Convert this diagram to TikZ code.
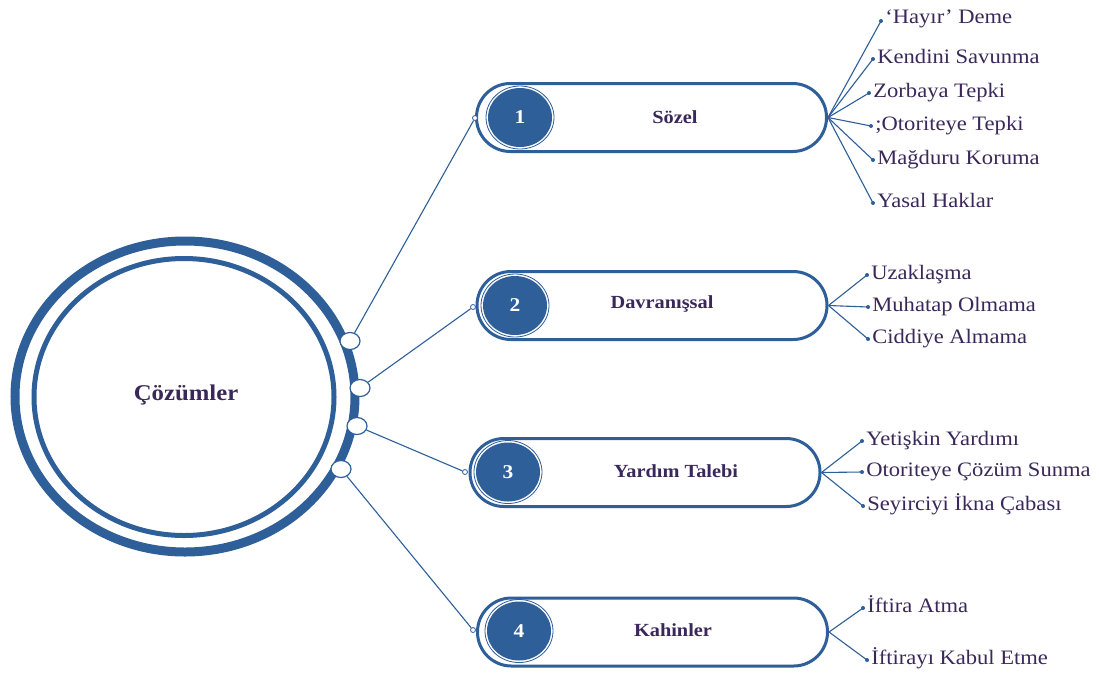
\documentclass[tikz,border=0pt]{standalone}
\usepackage{fontspec}
\setmainfont{Liberation Serif}[FakeStretch=1.1]
\usetikzlibrary{shapes.geometric}
\definecolor{mblue}{RGB}{46,95,153}
\definecolor{mtext}{RGB}{58,40,90}
\begin{document}
\begin{tikzpicture}[x=1pt,y=-1pt,
  ringdot/.style={ellipse,draw=mblue,fill=white,line width=1.2pt,minimum width=20pt,minimum height=17pt,inner sep=0pt},
  pill/.style={rectangle,rounded corners=33.9pt,draw=mblue,line width=3pt,minimum width=350pt,minimum height=68pt,inner sep=0pt},
  numring/.style={ellipse,draw=mblue,line width=0.8pt,minimum width=68pt,minimum height=63pt,inner sep=0pt},
  num/.style={ellipse,fill=mblue,minimum width=64pt,minimum height=59pt,inner sep=0pt,text=white,font=\bfseries\fontsize{19.5}{20}\selectfont},
  ptext/.style={text=mtext,font=\bfseries\fontsize{18.5}{20}\selectfont},
  tipdot/.style={circle,draw=mblue,fill=white,line width=0.8pt,minimum size=5pt,inner sep=0pt},
  bdot/.style={circle,fill=mblue,minimum size=4pt,inner sep=0pt},
  lbl/.style={anchor=base west,text=mtext,font=\fontsize{20.5}{22}\selectfont,inner sep=0pt,xshift=2pt,yshift=-4pt},
  link/.style={draw=mblue,line width=1.1pt}]
\useasboundingbox[fill=white] (0,0) rectangle (1099,673);

% central ellipses
\node[ellipse,draw=mblue,line width=9pt,minimum width=340pt,minimum height=311pt,inner sep=0pt] (outer) at (185,396.5) {};
\node[ellipse,draw=mblue,line width=5pt,minimum width=300pt,minimum height=277pt,inner sep=0pt] (inner) at (184,397) {};
\node[text=mtext,font=\bfseries\fontsize{22.5}{24}\selectfont] (title) at (186,395) {Çözümler};

% pills
\node[pill] (pill1) at (651.5,117.5) {};
\node[pill] (pill2) at (652,305.5) {};
\node[pill] (pill3) at (645,472.5) {};
\node[pill] (pill4) at (652.5,632) {};

\node[numring] (nr1) at (520,117.5) {};
\node[num] (n1) at (520,117.5) {1};
\node[numring] (nr2) at (515,305.5) {};
\node[num] (n2) at (515,305.5) {2};
\node[numring] (nr3) at (508,472) {};
\node[num] (n3) at (508,472) {3};
\node[numring] (nr4) at (519,631) {};
\node[num] (n4) at (519,631) {4};

\node[ptext] (t1) at (675,117) {Sözel};
\node[ptext] (t2) at (662,304) {Davranışsal};
\node[ptext] (t3) at (676,471) {Yardım Talebi};
\node[ptext] (t4) at (673,630) {Kahinler};

% ring dots and connectors to pills
\node[ringdot] (r1) at (350,341) {};
\node[ringdot] (r2) at (360,388) {};
\node[ringdot] (r3) at (357,426) {};
\node[ringdot] (r4) at (341,469) {};
\node[tipdot] (p1) at (475,118) {};
\node[tipdot] (p2) at (473,307) {};
\node[tipdot] (p3) at (465,472) {};
\node[tipdot] (p4) at (473,630) {};
\draw[link] (r1) -- (p1);
\draw[link] (r2) -- (p2);
\draw[link] (r3) -- (p3);
\draw[link] (r4) -- (p4);

% Sözel branches
\node[bdot] (d11) at (881,21) {};
\node[bdot] (d12) at (873,59) {};
\node[bdot] (d13) at (869,93) {};
\node[bdot] (d14) at (871,126) {};
\node[bdot] (d15) at (873,160) {};
\node[bdot] (d16) at (873,203) {};
\foreach \i in {1,...,6} \draw[link] (pill1.east) -- (d1\i.center);
\node[lbl,yshift=2pt] (l11) at (d11.east) {‘Hayır’ Deme};
\node[lbl] (l12) at (d12.east) {Kendini Savunma};
\node[lbl] (l13) at (d13.east) {Zorbaya Tepki};
\node[lbl] (l14) at (d14.east) {;Otoriteye Tepki};
\node[lbl] (l15) at (d15.east) {Mağduru Koruma};
\node[lbl] (l16) at (d16.east) {Yasal Haklar};

% Davranissal branches
\node[bdot] (d21) at (867,275) {};
\node[bdot] (d22) at (868,307) {};
\node[bdot] (d23) at (868,339) {};
\foreach \i in {1,2,3} \draw[link] (pill2.east) -- (d2\i.center);
\node[lbl] (l21) at (d21.east) {Uzaklaşma};
\node[lbl] (l22) at (d22.east) {Muhatap Olmama};
\node[lbl] (l23) at (d23.east) {Ciddiye Almama};

% Yardim Talebi branches
\node[bdot] (d31) at (862,441) {};
\node[bdot] (d32) at (862,472) {};
\node[bdot] (d33) at (863,506) {};
\foreach \i in {1,2,3} \draw[link] (pill3.east) -- (d3\i.center);
\node[lbl] (l31) at (d31.east) {Yetişkin Yardımı};
\node[lbl] (l32) at (d32.east) {Otoriteye Çözüm Sunma};
\node[lbl] (l33) at (d33.east) {Seyirciyi İkna Çabası};

% Kahinler branches
\node[bdot] (d41) at (863,608) {};
\node[bdot] (d42) at (867,660) {};
\foreach \i in {1,2} \draw[link] (pill4.east) -- (d4\i.center);
\node[lbl] (l41) at (d41.east) {İftira Atma};
\node[lbl] (l42) at (d42.east) {İftirayı Kabul Etme};
\end{tikzpicture}
\end{document}
